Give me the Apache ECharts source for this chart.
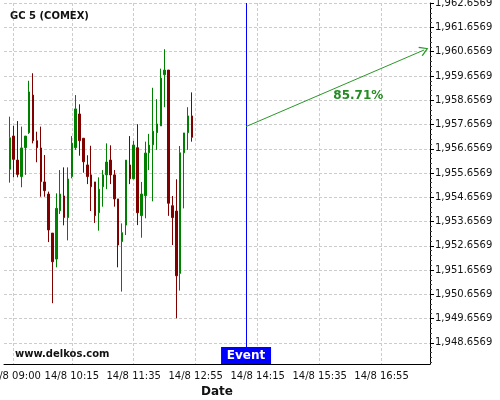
<!DOCTYPE html>
<html>
<head>
<meta charset="utf-8">
<script src="https://cdn.jsdelivr.net/npm/echarts@6/dist/echarts.min.js"></script>
<style>
  html, body { margin: 0; padding: 0; background: #fff; }
  #chart { width: 500px; height: 400px; }
</style>
</head>
<body>
<div id="chart"></div>
<script>
// 5 minute slots shown on the x axis, 14/8 08:50 .. 17:55
const categories = [];
for (let m = 8 * 60 + 50; m <= 17 * 60 + 55; m += 5) {
  categories.push('14/8 ' + String(Math.floor(m / 60)).padStart(2, '0') + ':' + String(m % 60).padStart(2, '0'));
}
// candles run from 08:55 to 12:50
const candleTimes = categories.slice(1, 49);

const opens = [1955.81, 1957.18, 1956.19, 1955.51, 1956.70, 1957.32, 1958.87, 1956.99, 1956.69, 1955.29,
  1954.79, 1953.18, 1952.11, 1954.10, 1954.71, 1953.82, 1955.51, 1956.70, 1958.09, 1957.09,
  1955.99, 1955.58, 1955.29, 1954.02, 1955.09, 1955.58, 1956.19, 1955.58, 1954.59, 1952.83,
  1953.51, 1955.99, 1955.42, 1956.70, 1953.90, 1954.72, 1956.49, 1956.82, 1957.32, 1957.60,
  1959.71, 1959.90, 1954.31, 1954.09, 1951.52, 1956.49, 1957.32, 1958.01];
const closes = [1957.11, 1956.22, 1955.60, 1956.69, 1957.18, 1959.00, 1956.99, 1956.70, 1955.30, 1954.93,
  1953.31, 1952.00, 1954.20, 1954.79, 1953.82, 1955.41, 1956.89, 1958.30, 1956.99, 1956.12,
  1955.51, 1955.09, 1953.90, 1954.99, 1955.58, 1956.11, 1955.58, 1954.59, 1952.69, 1953.20,
  1956.19, 1955.42, 1956.81, 1954.02, 1954.79, 1956.48, 1956.81, 1957.38, 1957.68, 1959.57,
  1959.90, 1954.41, 1953.82, 1951.42, 1956.49, 1957.31, 1958.01, 1957.13];
const lows = [1955.26, 1955.48, 1955.48, 1955.07, 1955.58, 1957.27, 1956.88, 1956.10, 1954.68, 1954.68,
  1952.81, 1950.29, 1951.77, 1953.97, 1953.50, 1952.88, 1955.44, 1956.61, 1956.37, 1955.67,
  1955.20, 1954.09, 1953.60, 1953.28, 1954.27, 1954.99, 1955.20, 1954.27, 1951.77, 1950.77,
  1953.10, 1955.20, 1955.40, 1953.51, 1952.99, 1953.79, 1955.78, 1954.49, 1956.61, 1957.60,
  1958.37, 1953.89, 1952.69, 1949.67, 1950.81, 1954.20, 1956.61, 1956.95];
const highs = [1957.98, 1957.60, 1957.80, 1957.57, 1957.18, 1959.46, 1959.77, 1957.36, 1957.57, 1956.40,
  1954.89, 1953.18, 1954.82, 1955.78, 1955.89, 1955.89, 1957.18, 1958.87, 1958.49, 1957.09,
  1956.39, 1956.78, 1955.29, 1955.48, 1955.78, 1956.88, 1956.80, 1955.78, 1954.59, 1953.58,
  1956.19, 1957.18, 1956.98, 1957.67, 1955.29, 1956.95, 1957.27, 1959.17, 1958.70, 1959.96,
  1960.76, 1959.90, 1954.71, 1955.40, 1956.77, 1957.31, 1958.37, 1958.98];

const xTickLabels = ['14/8 09:00', '14/8 10:15', '14/8 11:35', '14/8 12:55', '14/8 14:15', '14/8 15:35', '14/8 16:55'];
const xMinorTicks = ['14/8 09:35', '14/8 10:55', '14/8 12:15', '14/8 13:35', '14/8 14:55', '14/8 16:15', '14/8 17:35'];
const yTicks = [1948.6569, 1949.6569, 1950.6569, 1951.6569, 1952.6569, 1953.6569, 1954.6569,
  1955.6569, 1956.6569, 1957.6569, 1958.6569, 1959.6569, 1960.6569, 1961.6569, 1962.6569];
const yMin = 1947.785, yMax = 1962.665;

const eventTime = '14/8 14:00';
const arrowFrom = ['14/8 14:00', 1957.57];
const arrowTo = ['14/8 17:50', 1960.73];
const probLabel = ['14/8 16:25', 1958.83, '85.71%'];

// minor ticks on the price axis, 5 per unit
const yMinor = [];
yTicks.concat([yTicks[0] - 1]).forEach(t => {
  for (let k = 1; k < 5; k++) yMinor.push(+(t + k * 0.2).toFixed(4));
});

function fmtPrice(v) {
  const s = Number(v).toFixed(4).split('.');
  return s[0].replace(/\B(?=(\d{3})+(?!\d))/g, ',') + '.' + s[1];
}

const font = 'DejaVu Sans';
const grid = { color: '#cccccc', type: [3, 2], width: 1 };

const chart = echarts.init(document.getElementById('chart'));
chart.setOption({
  animation: false,
  backgroundColor: '#ffffff',
  title: [
    { text: 'GC 5 (COMEX)', left: 5, top: 6, textStyle: { fontFamily: font, fontSize: 10, fontWeight: 'bold', color: '#111' } },
    { text: 'www.delkos.com', left: 10, top: 344, textStyle: { fontFamily: font, fontSize: 10, fontWeight: 'bold', color: '#111' } }
  ],
  grid: { left: 4, right: 70, top: 3, bottom: 36, containLabel: false, outerBoundsMode: 'none' },
  dataset: {
    source: candleTimes.map((t, i) => [t, opens[i], closes[i], lows[i], highs[i]])
  },
  xAxis: {
    type: 'category',
    data: categories,
    boundaryGap: true,
    name: 'Date',
    nameLocation: 'middle',
    nameGap: 20,
    nameTextStyle: { fontFamily: font, fontSize: 12, fontWeight: 'bold', color: '#111' },
    axisLine: { lineStyle: { color: '#000', width: 1 } },
    axisTick: {
      alignWithLabel: true,
      length: 3,
      interval: (i, v) => xMinorTicks.includes(v),
      lineStyle: { color: '#000' }
    },
    axisLabel: {
      interval: (i, v) => xTickLabels.includes(v),
      margin: 7,
      hideOverlap: false,
      fontFamily: font, fontSize: 10, color: '#111'
    },
    splitLine: {
      show: true,
      alignWithLabel: true,
      interval: (i, v) => xTickLabels.includes(v),
      lineStyle: grid
    }
  },
  yAxis: [
    {
      type: 'value',
      position: 'right',
      min: yMin,
      max: yMax,
      axisLine: { show: true, lineStyle: { color: '#000', width: 1 } },
      axisTick: { show: true, length: 4, customValues: yTicks, lineStyle: { color: '#000' } },
      axisLabel: { customValues: yTicks, margin: 5, formatter: fmtPrice, fontFamily: font, fontSize: 10, color: '#111' },
      splitLine: { show: true, lineStyle: grid }
    },
    {
      type: 'value',
      position: 'right',
      min: yMin,
      max: yMax,
      axisLine: { show: false },
      axisTick: { show: true, length: 2, customValues: yMinor, lineStyle: { color: '#444' } },
      axisLabel: { show: false },
      splitLine: { show: false }
    }
  ],
  series: [{
    type: 'candlestick',
    encode: { x: 0, y: [1, 2, 3, 4] },
    barWidth: 2,
    itemStyle: {
      color: '#008000', color0: '#800000',
      borderColor: '#008000', borderColor0: '#800000',
      borderWidth: 1
    },
    markLine: {
      silent: true,
      symbol: ['none', 'none'],
      label: { show: false },
      lineStyle: { color: '#0000ff', width: 1, type: 'solid' },
      emphasis: { disabled: true },
      data: [
        { xAxis: eventTime },
        [
          { coord: arrowFrom, symbol: 'none', lineStyle: { color: '#2a982a', width: 1, type: 'solid' } },
          { coord: arrowTo, symbol: 'path://M5,0 L10,9 L9,10 L5,2.5 L1,10 L0,9 Z', symbolSize: [10, 9] }
        ]
      ]
    },
    markPoint: {
      silent: true,
      data: [
        {
          coord: [eventTime, yMin],
          symbol: 'rect',
          symbolSize: [50, 17],
          symbolOffset: [0, '-50%'],
          itemStyle: { color: '#0000ff' },
          label: { show: true, position: 'inside', formatter: 'Event', fontFamily: font, fontSize: 12, fontWeight: 'bold', color: '#fff' }
        },
        {
          coord: [probLabel[0], probLabel[1]],
          symbol: 'rect',
          symbolSize: 1,
          itemStyle: { color: 'rgba(0,0,0,0)' },
          label: { show: true, position: 'inside', formatter: probLabel[2], fontFamily: font, fontSize: 12, fontWeight: 'bold', color: '#228b22' }
        }
      ]
    }
  }]
});
</script>
</body>
</html>
